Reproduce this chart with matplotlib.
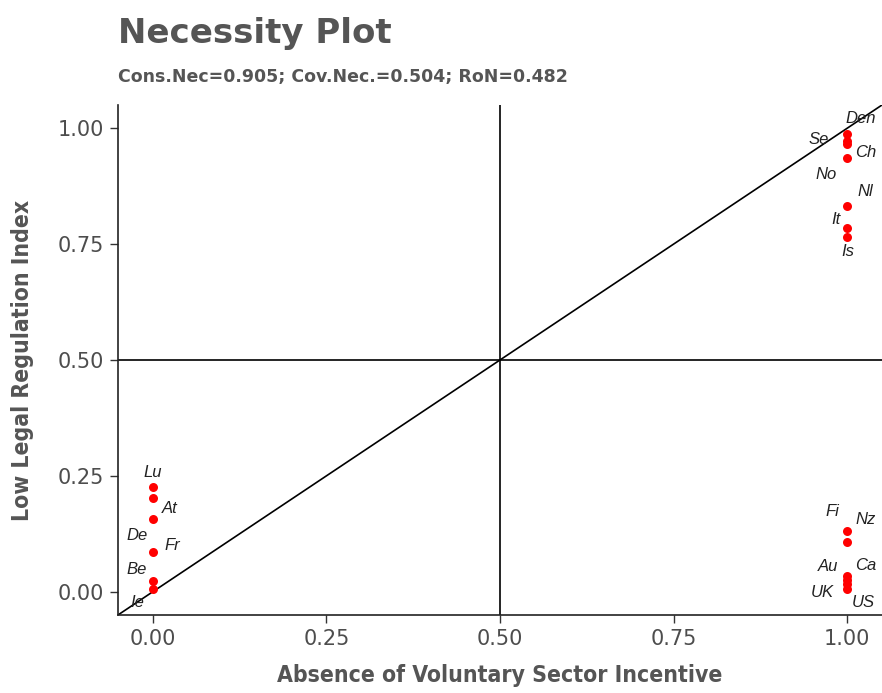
import matplotlib
matplotlib.use("Agg")
import matplotlib.pyplot as plt

# data
countries = ['Den', 'Se', 'Ch', 'No', 'Nl', 'It', 'Is',
             'Nz', 'Fi', 'Au', 'Ca', 'UK', 'US',
             'Lu', 'At', 'De', 'Fr', 'Be', 'Ie']
x_vals = [1, 1, 1, 1, 1, 1, 1,
          1, 1, 1, 1, 1, 1,
          0, 0, 0, 0, 0, 0]
y_vals = [0.988, 0.973, 0.966, 0.935, 0.833, 0.785, 0.766,
          0.131, 0.107, 0.034, 0.026, 0.017, 0.007,
          0.227, 0.202, 0.157, 0.086, 0.024, 0.006]

title = 'Necessity Plot'
subtitle = 'Cons.Nec=0.905; Cov.Nec.=0.504; RoN=0.482'
xlabel = 'Absence of Voluntary Sector Incentive'
ylabel = 'Low Legal Regulation Index'
ticks = [0, 0.25, 0.5, 0.75, 1.0]

# label offsets in pixels (dx, dy), from the picture
offsets = {'Den': (13, 15), 'Se': (-29, 1), 'Ch': (18, -9), 'No': (-21, -16),
           'Nl': (18, 14), 'It': (-11, 8), 'Is': (1, -15),
           'Nz': (18, 12), 'Fi': (-15, 31), 'Au': (-19, 10), 'Ca': (18, 14),
           'UK': (-25, -9), 'US': (16, -14),
           'Lu': (0, 14), 'At': (17, -10), 'De': (-16, -17), 'Fr': (20, 6),
           'Be': (-16, 11), 'Ie': (-15, -13)}

grey = '#555555'
fig = plt.figure(figsize=(8.82, 6.93), dpi=100)
ax = fig.add_axes([0.1338, 0.1126, 0.8662, 0.7359])

ax.axvline(0.5, color='black', lw=1.2, zorder=1)
ax.axhline(0.5, color='black', lw=1.2, zorder=1)
ax.plot([-0.05, 1.05], [-0.05, 1.05], color='black', lw=1.2, zorder=1)
ax.scatter(x_vals, y_vals, s=42, color='red', zorder=3, linewidths=0)

for name, xv, yv in zip(countries, x_vals, y_vals):
    dx, dy = offsets[name]
    ax.annotate(name, (xv, yv), xytext=(dx, dy), textcoords='offset pixels',
                ha='center', va='center', fontsize=12, style='italic',
                family='Liberation Sans', color='#222222')

ax.set_xlim(-0.05, 1.05)
ax.set_ylim(-0.05, 1.05)
ax.set_xticks(ticks)
ax.set_yticks(ticks)
ax.set_xticklabels(['%.2f' % t for t in ticks])
ax.set_yticklabels(['%.2f' % t for t in ticks])
for lab in ax.get_xticklabels() + ax.get_yticklabels():
    lab.set_family('Liberation Sans Narrow')
    lab.set_fontsize(15)
    lab.set_color('#4d4d4d')
ax.tick_params(length=6, width=1, color='#333333', pad=4)
for side in ['top', 'right']:
    ax.spines[side].set_visible(False)
for side in ['left', 'bottom']:
    ax.spines[side].set_linewidth(1.2)
    ax.spines[side].set_color('#222222')

ax.set_xlabel(xlabel, fontsize=16.5, fontweight='bold', color=grey, labelpad=11,
              fontstretch='condensed')
ax.set_ylabel(ylabel, fontsize=16.5, fontweight='bold', color=grey, labelpad=17,
              fontstretch='condensed')

fig.text(118 / 882, 1 - 33 / 693, title, fontsize=24.5, fontweight='bold',
         color=grey, va='center', ha='left')
fig.text(118 / 882, 1 - 77 / 693, subtitle, fontsize=12.5, fontweight='bold',
         color=grey, va='center', ha='left')

fig.savefig('out.png', dpi=100)
